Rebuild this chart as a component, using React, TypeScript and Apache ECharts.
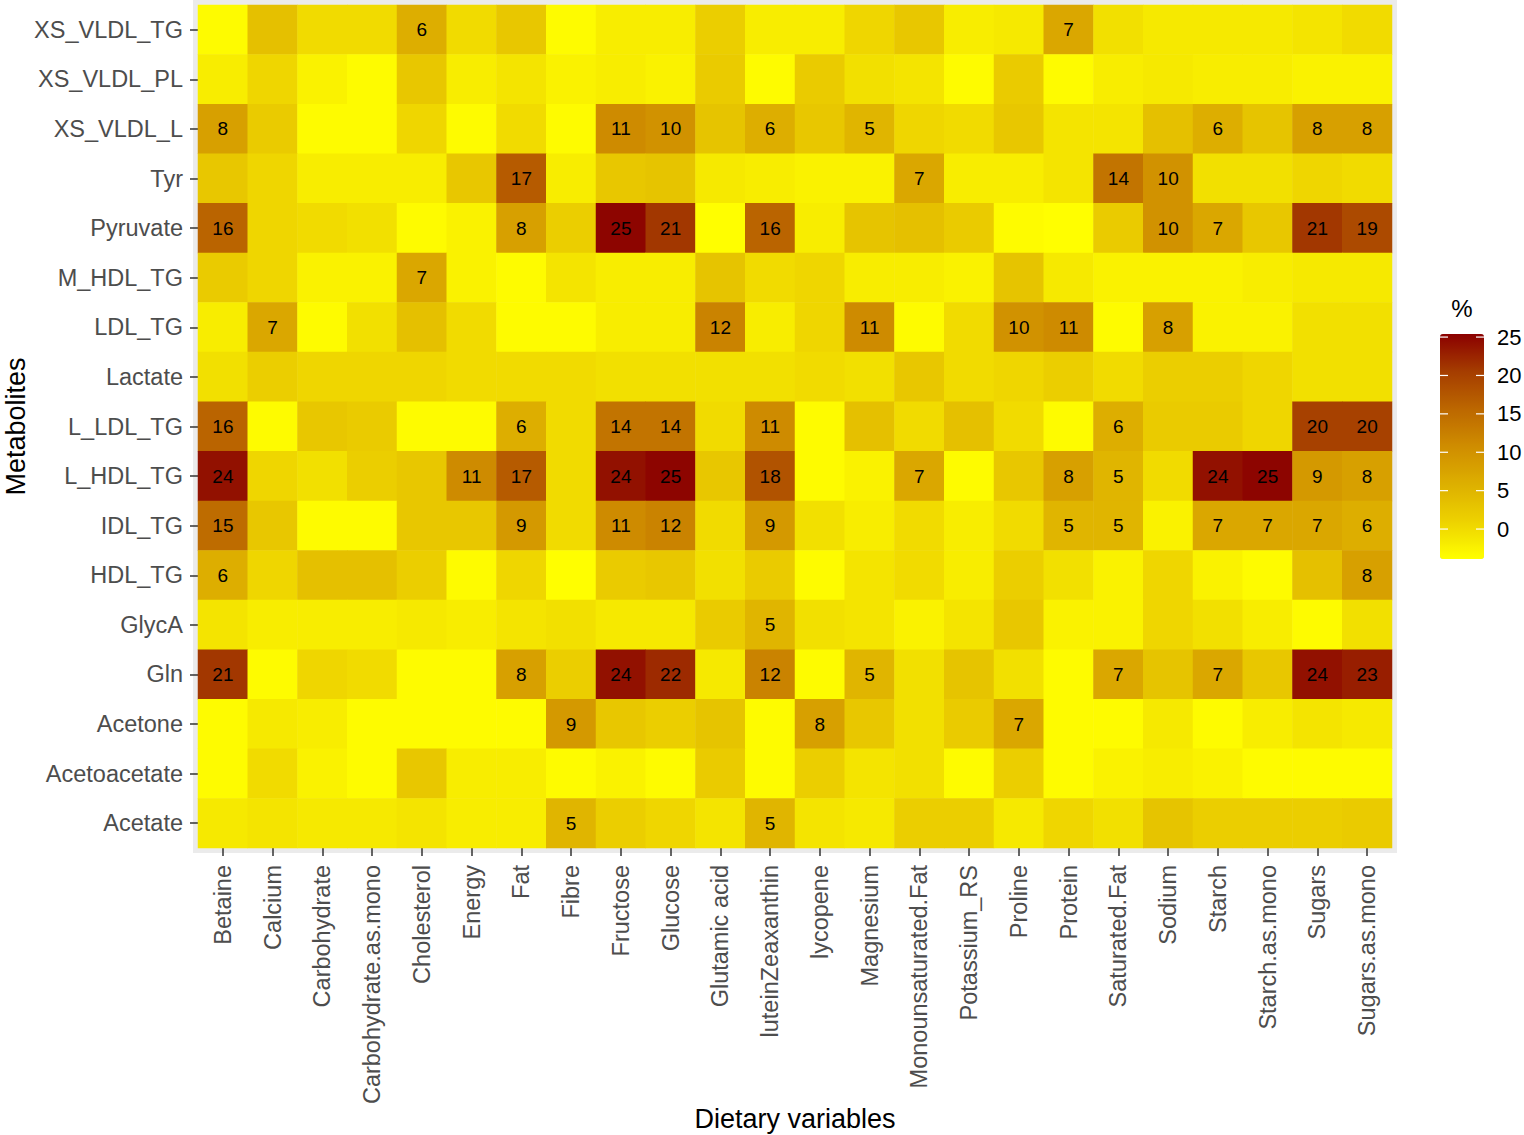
import React, { useEffect, useRef } from "react";
import * as echarts from "echarts";

const dietary = [
  "Betaine", "Calcium", "Carbohydrate", "Carbohydrate.as.mono", "Cholesterol", "Energy", "Fat", "Fibre",
  "Fructose", "Glucose", "Glutamic acid", "luteinZeaxanthin", "lycopene", "Magnesium", "Monounsaturated.Fat",
  "Potassium_RS", "Proline", "Protein", "Saturated.Fat", "Sodium", "Starch", "Starch.as.mono", "Sugars", "Sugars.as.mono",
];

// top to bottom
const metabolites = [
  "XS_VLDL_TG", "XS_VLDL_PL", "XS_VLDL_L", "Tyr", "Pyruvate", "M_HDL_TG", "LDL_TG", "Lactate", "L_LDL_TG",
  "L_HDL_TG", "IDL_TG", "HDL_TG", "GlycA", "Gln", "Acetone", "Acetoacetate", "Acetate",
];

const xsVldlTg = [-3.5, 3.5, 0, 0, 6, 0, 2.5, -3.5, -2, -2, 1.5, -2, -2, 0.5, 2.5, -2, -1.5, 7, -0.5, -1.5, -1.5, -1.5, -1, 0];
const xsVldlPl = [-2, 0.5, -2.5, -3.5, 2.5, -2, -1, -2.5, -2, -2.5, 2, -3.5, 2, -0.5, -1, -3.5, 2, -3.5, -2, -1.5, -2, -2, -2.5, -2.5];
const xsVldlL = [8, 2, -3.5, -3.5, 0.5, -3.5, 0, -3.5, 11, 10, 3, 6, 2.5, 5, 0.5, 0, 2.5, -1, -1, 3.5, 6, 3, 8, 8];
const tyr = [2.5, 0.5, -2, -2, -2, 2.5, 17, -2, 2.5, 3, -1.5, -2, -2.5, -2.5, 7, -2, -2, -1, 14, 10, -0.5, -0.5, 0.5, 0];
const pyruvate = [16, 0.5, 0, -0.5, -3.5, -2.5, 8, 1.5, 25, 21, -3.8, 16, -2, 3, 3.5, 2, -3.5, -3.8, 2, 10, 7, 2.5, 21, 19];
const mHdlTg = [2, 0.5, -2.5, -2.5, 7, -2.5, -3.5, -1, -2, -2, 3, 0, 0.5, -2, -2, -2.5, 3, -1.5, -2.5, -2.5, -2.5, -2, -1.5, -1.5];
const ldlTg = [-2, 7, -3.5, -0.5, 3.5, 0, -3.5, -3.5, -2, -2, 12, -2, 0.5, 11, -3.5, 0, 10, 11, -3.5, 8, -2.5, -2.5, -0.5, -0.5];
const lactate = [-0.5, 1.5, 0.5, 0.5, 0.5, 0, 0, 0, -0.5, -0.5, -0.5, -0.5, 0, -0.5, 2.5, 0, 0.5, 1.5, 0, 1.5, 1.5, 0.5, -0.5, -0.5];
const lLdlTg = [16, -3.5, 2.5, 2, -3.5, -3.5, 6, 0, 14, 14, 0, 11, -3.5, 3.5, 0, 3.5, 0, -3.5, 6, 2, 2, 0.5, 20, 20];
const lHdlTg = [24, 0.5, -0.5, 1.5, 2.5, 11, 17, 0, 24, 25, 2.5, 18, -3.5, -2.5, 7, -3.5, 2.5, 8, 5, 0, 24, 25, 9, 8];
const idlTg = [15, 2.5, -3.5, -3.5, 2.5, 2.5, 9, 0, 11, 12, 0, 9, -0.5, -2, 0, -2, 0, 5, 5, -2.5, 7, 7, 7, 6];
const hdlTg = [6, 0.5, 3.5, 3.5, 1.5, -3.5, 0.5, -3.8, 2, 2.5, -0.5, 2, -3.5, -1, 0, -2, 1.5, -0.5, -2.5, 0.5, -2.5, -3.5, 3.5, 8];
const glycA = [-1, -2, -2, -2, -1.5, -2, -1, -0.5, -1.5, -1.5, 2, 5, -0.5, -1, -2.5, -1, 2.5, -2.5, -2.5, 0.5, -0.5, -2, -3.5, -0.5];
const gln = [21, -3.5, 0.5, 0, -3.5, -3.5, 8, 1.5, 24, 22, -1.5, 12, -3.5, 5, -0.5, 3, -0.5, -3.5, 7, 3, 7, 2.5, 24, 23];
const acetone = [-3.5, -1.5, -2, -3.5, -3.5, -3.5, -3.5, 9, 2.5, 1.5, 3, -3.5, 8, 2.5, -0.5, 2, 7, -3.5, -3.5, -1.5, -3.5, -2, -1, -1.5];
const acetoacetate = [-3.5, 0, -2.5, -3.5, 2.5, -2, -2, -3.5, -2.5, -3.5, 2, -3.5, 1.5, -1, -0.5, -3.5, 1.5, -3.5, -2.5, -2, -2.5, -3.5, -3.5, -3.5];
const acetate = [-1.5, -1, -1.5, -1.5, -1, -2, -2, 5, 1.5, 0.5, -1, 5, -1, -1.5, 1.5, 1.5, -1.5, 0.5, -0.5, 3, 1.5, 1.5, 1.5, 2];

const rows = [
  xsVldlTg, xsVldlPl, xsVldlL, tyr, pyruvate, mHdlTg, ldlTg, lactate, lLdlTg,
  lHdlTg, idlTg, hdlTg, glycA, gln, acetone, acetoacetate, acetate,
];

const legendTicks = [0, 5, 10, 15, 20, 25];
const scaleMin = -3.9;
const scaleMax = 25.4;

const FONT = "'Liberation Sans', Arial, sans-serif";

export default function App() {
  const ref = useRef<HTMLDivElement>(null);
  useEffect(() => {
    if (!ref.current) return;
    const chart = echarts.init(ref.current, undefined, { renderer: "svg" });
    const data: any[] = [];
    rows.forEach((r, yi) => r.forEach((v, xi) => data.push([xi, yi, v])));

    const barLeft = 1440, barTop = 334, barW = 44, barH = 225;
    const tickY = (v: number) => barTop + ((scaleMax - v) / (scaleMax - scaleMin)) * barH;
    const legendGraphics: any[] = [];
    legendTicks.forEach((t) => {
      const y = tickY(t);
      legendGraphics.push({
        type: "text", x: barLeft + barW + 13, y, z: 10,
        style: { text: String(t), fontSize: 22, fontFamily: FONT, fill: "#000", verticalAlign: "middle", align: "left" },
      });
      legendGraphics.push({ type: "line", z: 10, shape: { x1: barLeft, y1: y, x2: barLeft + 8, y2: y }, style: { stroke: "#fff", lineWidth: 1.2 } });
      legendGraphics.push({ type: "line", z: 10, shape: { x1: barLeft + barW - 8, y1: y, x2: barLeft + barW, y2: y }, style: { stroke: "#fff", lineWidth: 1.2 } });
    });

    chart.setOption({
      animation: false,
      backgroundColor: "#fff",
      grid: { left: 198, top: 5, right: 132, bottom: 287, containLabel: false, outerBoundsMode: "none" },
      xAxis: {
        type: "category",
        data: dietary,
        name: "Dietary variables",
        nameLocation: "middle",
        nameGap: 257,
        nameMoveOverlap: false,
        nameTextStyle: { fontSize: 27, fontFamily: FONT, color: "#000" },
        axisLine: { show: false },
        axisTick: { show: true, alignWithLabel: true, length: 8, lineStyle: { color: "#333", width: 1.5 } },
        axisLabel: { rotate: 90, fontSize: 23.5, fontFamily: FONT, color: "#4D4D4D", margin: 17, interval: 0 },
        splitArea: { show: false },
      },
      yAxis: {
        type: "category",
        data: metabolites,
        inverse: true,
        name: "Metabolites",
        nameLocation: "middle",
        nameGap: 169,
        nameMoveOverlap: false,
        nameTextStyle: { fontSize: 27, fontFamily: FONT, color: "#000" },
        axisLine: { show: false },
        axisTick: { show: true, alignWithLabel: true, length: 8, lineStyle: { color: "#333", width: 1.5 } },
        axisLabel: { fontSize: 23.5, fontFamily: FONT, color: "#4D4D4D", margin: 15, interval: 0 },
      },
      visualMap: {
        type: "continuous",
        min: scaleMin,
        max: scaleMax,
        calculable: false,
        left: barLeft,
        top: barTop,
        padding: 0,
        itemWidth: barW,
        itemHeight: barH,
        showLabel: false,
        inRange: { color: ["#FFFF00", "#EDD200", "#DDAF00", "#CF8D00", "#BC6700", "#A53D00", "#8B0000"] },
      },
      graphic: [
        { type: "rect", z: -10, shape: { x: 193, y: 0, width: 1204, height: 853 }, style: { fill: "#EBEBEB" } },
        {
          type: "text", x: barLeft + barW / 2, y: 308, z: 10,
          style: { text: "%", fontSize: 24, fontFamily: FONT, fill: "#000", align: "center", verticalAlign: "middle" },
        },
        ...legendGraphics,
      ],
      series: [
        {
          type: "heatmap",
          data,
          label: {
            show: true,
            fontSize: 19,
            fontFamily: FONT,
            color: "#000",
            formatter: (p: any) => (Math.round(p.value[2]) >= 5 ? String(Math.round(p.value[2])) : ""),
          },
          itemStyle: { borderWidth: 0 },
          emphasis: { disabled: true },
        },
      ],
    });
    return () => chart.dispose();
  }, []);
  return <div ref={ref} style={{ position: "fixed", left: 0, top: 0, width: 1524, height: 1135 }} />;
}
